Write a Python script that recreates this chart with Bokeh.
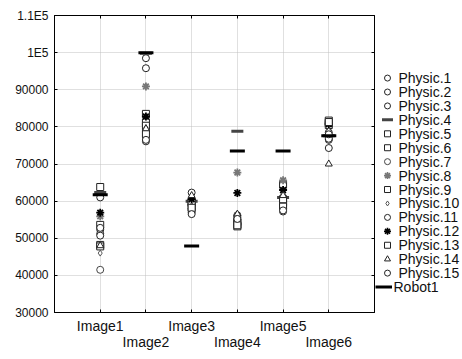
from bokeh.plotting import figure
from bokeh.layouts import row
from bokeh.models import FixedTicker, ColumnDataSource, Range1d, LinearAxis
from bokeh.core.properties import value
from bokeh.embed import file_html
from bokeh.resources import INLINE

categories = ["Image1", "Image2", "Image3", "Image4", "Image5", "Image6"]
x_pos = list(range(1, len(categories) + 1))

y_ticks = [30000, 40000, 50000, 60000, 70000, 80000, 90000, 100000, 110000]
y_tick_labels = ["30000", "40000", "50000", "60000", "70000", "80000", "90000", "1E5", "1.1E5"]

physic_1 = [61000, 98500, 62300, 56200, 61000, 78500]
physic_2 = [52300, 95800, 59000, 55600, 60000, 76500]
physic_3 = [51200, 79200, 58000, 55000, 59000, 74300]
physic_4 = [62300, 99800, 60000, 78800, 61000, 77600]
physic_5 = [53600, 83500, 59500, 54400, 64400, 81700]
physic_6 = [48200, 81200, 58500, 53700, 59500, 81000]
physic_7 = [41500, 77000, 57500, 56000, 58000, 77200]
physic_8 = [55900, 90900, 60200, 67700, 65600, 80800]
physic_9 = [47800, 80300, 59800, 53200, 60500, 80500]
physic_10 = [46000, 79800, 58800, 55800, 62000, 79000]
physic_11 = [50700, 76100, 57000, 54800, 57200, 76800]
physic_12 = [56900, 82800, 60500, 62200, 63000, 80700]
physic_13 = [63800, 78100, 58200, 53500, 58500, 81300]
physic_14 = [48000, 79500, 61500, 56500, 61500, 70000]
physic_15 = [52800, 76500, 56500, 55200, 57500, 78000]
robot_1 = [61700, 100000, 47900, 73500, 73500, 77600]

FONT = "Liberation Sans"
H = 356

p = figure(width=375, height=H, output_backend="svg", toolbar_location=None,
           x_range=(0, 7), y_range=(30000, 110000),
           min_border_left=54, min_border_right=1, min_border_top=15, min_border_bottom=44)
p.background_fill_color = "white"
p.border_fill_color = "white"
p.outline_line_color = "black"
p.outline_line_width = 1

p.xaxis.ticker = FixedTicker(ticks=x_pos)
p.xaxis.major_label_overrides = {
    x: (c if i % 2 == 0 else "\n" + c) for i, (x, c) in enumerate(zip(x_pos, categories))
}
p.yaxis.ticker = FixedTicker(ticks=y_ticks)
p.yaxis.major_label_overrides = dict(zip(y_ticks, y_tick_labels))
for ax in (p.xaxis[0], p.yaxis[0]):
    ax.major_tick_in = 3
    ax.major_tick_out = 0
    ax.minor_tick_in = 0
    ax.minor_tick_out = 0
    ax.axis_line_color = "black"
    ax.major_tick_line_color = "black"
    ax.major_label_text_font = FONT
    ax.major_label_text_color = "#111111"
p.xaxis.major_label_text_font_size = "14px"
p.xaxis.major_label_text_line_height = 1.05
p.xaxis.major_label_standoff = 5
p.yaxis.major_label_text_font_size = "12px"
p.yaxis.major_label_standoff = 6

# mirrored inner ticks on the top and right edges
for loc, ticks in (("right", y_ticks), ("above", x_pos)):
    ax = LinearAxis(ticker=FixedTicker(ticks=ticks), major_tick_in=3, major_tick_out=0,
                    minor_tick_in=0, minor_tick_out=0, major_label_standoff=0,
                    major_label_text_font_size="0px", axis_line_color="black",
                    major_tick_line_color="black")
    ax.major_label_overrides = {t: "" for t in ticks}
    p.add_layout(ax, loc)

p.xgrid.grid_line_color = "#c0c0c0"
p.xgrid.grid_line_dash = "1 1"
p.ygrid.grid_line_color = "#c0c0c0"
p.ygrid.grid_line_dash = "1 1"

series = [
    ("Physic.1", physic_1, "circle", 7, "#222222", "white", 1.0),
    ("Physic.2", physic_2, "circle", 7, "#222222", "white", 1.0),
    ("Physic.3", physic_3, "circle", 7, "#222222", "white", 1.0),
    ("Physic.4", physic_4, "dash", 12, "#444444", "#444444", 3.0),
    ("Physic.5", physic_5, "square", 7, "#222222", "white", 1.0),
    ("Physic.6", physic_6, "square", 7, "#222222", "white", 1.0),
    ("Physic.7", physic_7, "circle", 7, "#444444", "white", 1.0),
    ("Physic.8", physic_8, "asterisk", 8, "#777777", "#777777", 1.8),
    ("Physic.9", physic_9, "square", 7, "#222222", "white", 1.0),
    ("Physic.10", physic_10, "diamond", 6, "#555555", "white", 1.0),
    ("Physic.11", physic_11, "circle", 7, "#222222", "white", 1.0),
    ("Physic.12", physic_12, "asterisk", 8, "#000000", "#000000", 1.8),
    ("Physic.13", physic_13, "square", 7, "#222222", "white", 1.0),
    ("Physic.14", physic_14, "triangle", 7, "#222222", "white", 1.0),
    ("Physic.15", physic_15, "circle", 7, "#222222", "white", 1.0),
    ("Robot1", robot_1, "dash", 15, "#000000", "#000000", 3.0),
]

for name, vals, marker, size, lc, fc, lw in series:
    src = ColumnDataSource(dict(x=x_pos, y=vals))
    p.scatter("x", "y", source=src, marker=marker, size=size,
              line_color=lc, fill_color=fc, line_width=lw)

# ---- legend drawn as a separate small figure to the right ----
LW = 85
first_px, step_px = 75.0, 16.7          # pixel centre of first entry, row pitch
leg = figure(width=LW, height=H, output_backend="svg", toolbar_location=None,
             x_range=Range1d(0, LW),
             y_range=Range1d((H - first_px) / step_px, -first_px / step_px),
             min_border=0)
leg.axis.visible = False
leg.grid.visible = False
leg.outline_line_color = None
leg.background_fill_color = "white"
leg.border_fill_color = "white"

for i, (name, vals, marker, size, lc, fc, lw) in enumerate(series):
    is_robot = name == "Robot1"
    gx = 8 if is_robot else 12
    tx = 18 if is_robot else 23
    if marker == "dash":
        gsize, glw = (17 if is_robot else 11), lw
    elif marker == "asterisk":
        gsize, glw = 7, 1.6
    elif marker == "diamond":
        gsize, glw = 5, 1.0
    else:
        gsize, glw = 6, 1.0
    leg.scatter([gx], [i], marker=marker, size=gsize,
                line_color=lc, fill_color=fc, line_width=glw)
    leg.text([tx], [i], text=[name], text_font=value(FONT), text_font_size="14px",
             text_baseline="middle", text_align="left", text_color="#111111")

layout = row(p, leg)
open("out.html", "w").write(file_html(layout, INLINE))
